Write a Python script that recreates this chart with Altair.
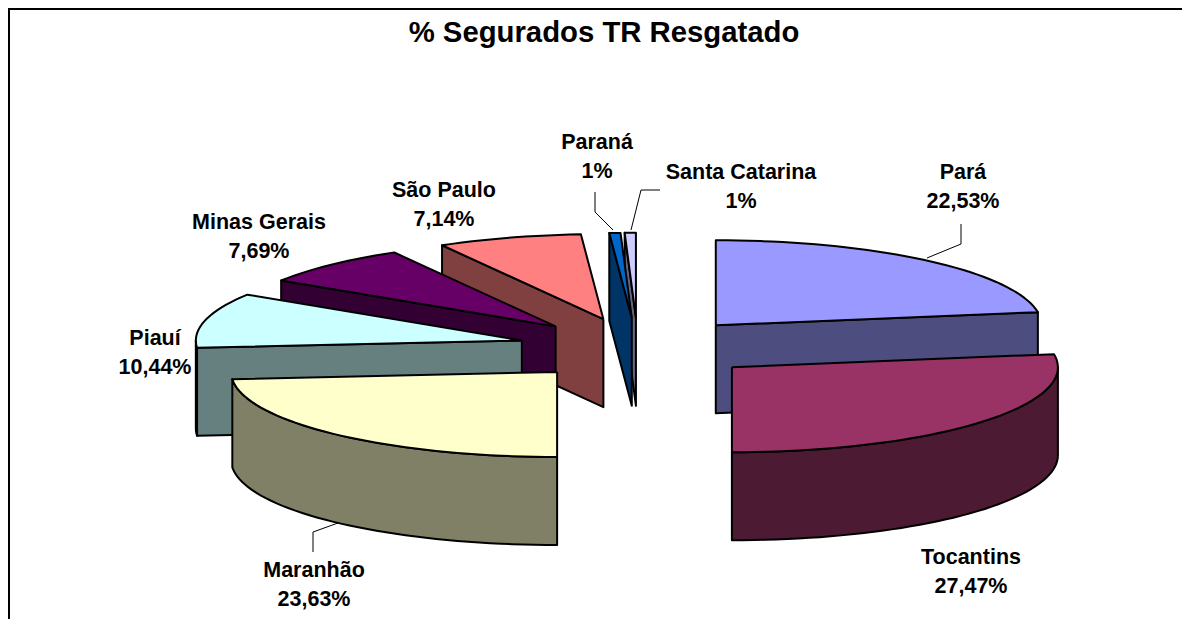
import math
import altair as alt
import pandas as pd

TITLE = "% Segurados TR Resgatado"
states = ["Pará", "Tocantins", "Maranhão", "Piauí", "Minas Gerais", "São Paulo", "Paraná", "Santa Catarina"]
shares = [22.53, 27.47, 23.63, 10.44, 7.69, 7.14, 0.55, 0.55]
value_labels = ["22,53%", "27,47%", "23,63%", "10,44%", "7,69%", "7,14%", "1%", "1%"]
top_colors = ["#9999FF", "#993366", "#FFFFCC", "#CCFFFF", "#660066", "#FF8080", "#0066CC", "#CCCCFF"]
side_colors = ["#4D4D80", "#4D1A33", "#808066", "#668080", "#330033", "#804040", "#003366", "#666680"]
paint_order = [7, 6, 5, 4, 3, 2, 0, 1]

# small per-slice shift on top of the common explosion, in page pixels
nudge_x = [0, 3, 0, 0, 0, 0, 0, 0]
nudge_y = [0, -2, 0, -1, 0, 0, 0, 0]

# label centre positions, in page pixels
label_x = [963, 971, 314, 155, 259, 444, 597, 741]
label_name_y = [173, 558, 571, 339, 223, 191, 143, 173]
LINE_GAP = 28.5

# leader lines as page pixels: one list per leader
leader_x = [[961, 961, 927], [313, 313, 338], [595, 595, 613], [660, 641, 631]]
leader_y = [[224, 244, 258], [552, 532, 523], [192, 212, 230], [190, 190, 230]]

# pie geometry, in page pixels
CX, CY, RX, RY, DEPTH, EXPLODE = 638.0, 349.0, 326.0, 85.0, 88.0, 0.367
OX, OY = 8, 8
W, H = 1174, 611


def arc(a0, a1, cx, cy, dy=0.0):
    n = max(2, int(abs(a1 - a0) / 2) + 2)
    out = []
    for i in range(n):
        a = math.radians(a0 + (a1 - a0) * i / (n - 1))
        out.append((cx + RX * math.sin(a), cy - RY * math.cos(a) + dy))
    return out


edges = [0.0]
for s in shares:
    edges.append(edges[-1] + s * 3.6)

polys = []
for i in paint_order:
    a0, a1 = edges[i], edges[i + 1]
    mid = math.radians((a0 + a1) / 2)
    ax = CX + EXPLODE * RX * math.sin(mid) + nudge_x[i]
    ay = CY - EXPLODE * RY * math.cos(mid) + nudge_y[i]
    if math.sin(math.radians(a0)) < -1e-6:
        p = arc(a0, a0, ax, ay)[:1]
        polys.append(([(ax, ay), p[0], (p[0][0], p[0][1] + DEPTH), (ax, ay + DEPTH), (ax, ay)], side_colors[i]))
    if math.sin(math.radians(a1)) > 1e-6:
        p = arc(a1, a1, ax, ay)[:1]
        polys.append(([(ax, ay), p[0], (p[0][0], p[0][1] + DEPTH), (ax, ay + DEPTH), (ax, ay)], side_colors[i]))
    w0, w1 = max(a0, 90.0), min(a1, 270.0)
    if w1 > w0:
        t = arc(w0, w1, ax, ay)
        b = arc(w1, w0, ax, ay, DEPTH)
        polys.append((t + b + t[:1], side_colors[i]))
    polys.append(([(ax, ay)] + arc(a0, a1, ax, ay) + [(ax, ay)], top_colors[i]))

xs = alt.Scale(domain=[OX, OX + W], range=[0, W], nice=False, zero=False)
ys = alt.Scale(domain=[OY, OY + H], range=[0, H], nice=False, zero=False)
X = lambda f: alt.X(f, type="quantitative", scale=xs, axis=None)
Y = lambda f: alt.Y(f, type="quantitative", scale=ys, axis=None)

layers = []
# chart frame
frame = pd.DataFrame({"px": [9.0, 9.0, 1182.0], "py": [619.0, 9.0, 9.0], "k": [0, 1, 2]})
layers.append(alt.Chart(frame).mark_line(color="#000000", strokeWidth=2).encode(
    x=X("px"), y=Y("py"), order=alt.Order("k:Q")))

for pts, col in polys:
    df = pd.DataFrame({"px": [p[0] for p in pts], "py": [p[1] for p in pts], "k": range(len(pts))})
    layers.append(alt.Chart(df).mark_line(color="#000000", fill=col, strokeWidth=2, strokeJoin="round").encode(
        x=X("px"), y=Y("py"), order=alt.Order("k:Q")))

for lx, ly in zip(leader_x, leader_y):
    df = pd.DataFrame({"px": lx, "py": ly, "k": range(len(lx))})
    layers.append(alt.Chart(df).mark_line(color="#000000", strokeWidth=1).encode(
        x=X("px"), y=Y("py"), order=alt.Order("k:Q")))

names = pd.DataFrame({"px": label_x, "py": label_name_y, "t": states})
vals = pd.DataFrame({"px": label_x, "py": [v + LINE_GAP for v in label_name_y], "t": value_labels})
for df in (names, vals):
    layers.append(alt.Chart(df).mark_text(font="Liberation Sans", fontWeight="bold", fontSize=21.5, color="#000000",
                                          baseline="middle", align="center").encode(x=X("px"), y=Y("py"), text="t:N"))

title = pd.DataFrame({"px": [604], "py": [33], "t": [TITLE]})
layers.append(alt.Chart(title).mark_text(font="Liberation Sans", fontWeight="bold", fontSize=29.3, color="#000000",
                                         baseline="middle", align="center").encode(x=X("px"), y=Y("py"), text="t:N"))

chart = alt.layer(*layers).properties(width=W, height=H, padding=0, autosize=alt.AutoSizeParams(type="none")).configure_view(stroke=None)
chart.save("out.html", embed_options={"renderer": "svg", "actions": False})
